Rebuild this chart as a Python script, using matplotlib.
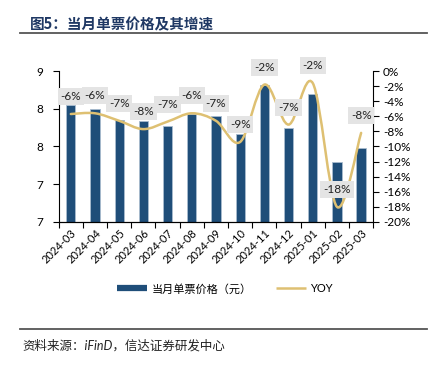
import matplotlib
matplotlib.use("Agg")
import matplotlib.pyplot as plt
from matplotlib.path import Path
from matplotlib.patches import PathPatch
from matplotlib.lines import Line2D
import numpy as np

plt.rcParams['font.family'] = ['Lato', 'Noto Sans CJK SC', 'DejaVu Sans']

# -------- DATA --------
months = ['2024-03', '2024-04', '2024-05', '2024-06', '2024-07', '2024-08', '2024-09',
          '2024-10', '2024-11', '2024-12', '2025-01', '2025-02', '2025-03']
price = [8.05, 7.99, 7.85, 7.84, 7.77, 7.93, 7.91, 7.67, 8.31, 7.75, 8.20, 7.29, 7.48]
yoy = [-5.7, -5.6, -6.6, -7.7, -6.7, -5.6, -6.6, -9.4, -1.8, -7.1, -1.6, -18.0, -8.2]
left_ticks = [6.5, 7.0, 7.5, 8.0, 8.5]
left_tick_labels = ['7', '7', '8', '8', '9']
right_ticks = [0, -2, -4, -6, -8, -10, -12, -14, -16, -18, -20]
# -------- DATA. --------

BAR_COLOR = '#1F4E79'
LINE_COLOR = '#DEC072'

fig = plt.figure(figsize=(4.35, 3.68), dpi=100)
ax = fig.add_axes([0.135, 0.397, 0.723, 0.410])
ax2 = ax.twinx()

x = np.arange(len(months))
ax.bar(x, price, width=0.385, color=BAR_COLOR, edgecolor='#a9bccf', linewidth=0.6, zorder=2)
ax.set_xlim(-0.5, len(months) - 0.5)
ax.set_ylim(6.5, 8.5)
ax.set_yticks(left_ticks)
ax.set_yticklabels(left_tick_labels)

# category boundary ticks, labels at centers
ax.set_xticks(np.arange(-0.5, len(months), 1.0))
ax.set_xticklabels([])
ax.set_xticks(x, minor=True)
ax.set_xticklabels(months, minor=True, rotation=45, ha='right', va='top',
                   rotation_mode='anchor', fontsize=8)
ax.tick_params(axis='x', which='minor', length=0, pad=4)
ax.tick_params(axis='x', which='major', length=4, width=0.8, direction='out')
ax.tick_params(axis='y', length=4, width=0.8, labelsize=8.5, pad=7)

# ---- Smoothed YOY line (bezier through the points)
verts = [(x[0], yoy[0])]
codes = [Path.MOVETO]
n = len(yoy)
for i in range(n - 1):
    p0 = np.array([x[max(i - 1, 0)], yoy[max(i - 1, 0)]])
    p1 = np.array([x[i], yoy[i]])
    p2 = np.array([x[i + 1], yoy[i + 1]])
    p3 = np.array([x[min(i + 2, n - 1)], yoy[min(i + 2, n - 1)]])
    c1 = p1 + (p2 - p0) / 6.0
    c2 = p2 - (p3 - p1) / 6.0
    verts += [tuple(c1), tuple(c2), tuple(p2)]
    codes += [Path.CURVE4] * 3
ax2.add_patch(PathPatch(Path(verts, codes), facecolor='none', edgecolor=LINE_COLOR,
                        linewidth=1.8, zorder=3, capstyle='round'))
ax2.set_ylim(-20, 0)
ax2.set_yticks(right_ticks)
ax2.set_yticklabels(['%d%%' % t for t in right_ticks])
ax2.tick_params(axis='y', length=4, width=0.8, labelsize=8.5, pad=3)

for xi, v in zip(x, yoy):
    ax2.annotate('%d%%' % round(v), (xi, v), xytext=(0, 12.5), textcoords='offset points',
                 ha='center', va='center', fontsize=8.5, color='#222222', zorder=4,
                 bbox=dict(boxstyle='square,pad=0.25', facecolor='#e4e4e4', edgecolor='none'))

for a in (ax, ax2):
    a.spines['top'].set_visible(False)
    a.spines['left'].set_linewidth(0.8)
    a.spines['right'].set_linewidth(0.8)
    a.spines['bottom'].set_linewidth(0.8)
ax2.spines['left'].set_visible(False)
ax.spines['right'].set_visible(False)

# ---- Legend
bar_handle = Line2D([], [], color=BAR_COLOR, linewidth=4.5, solid_capstyle='butt')
line_handle = Line2D([], [], color=LINE_COLOR, linewidth=1.8, solid_capstyle='butt')
fig.legend(handles=[bar_handle, line_handle], labels=['当月单票价格（元）', 'YOY'],
           loc='center', bbox_to_anchor=(0.517, 0.215), ncol=2, frameon=False,
           fontsize=8, handlelength=2.7, columnspacing=2.2, handletextpad=0.4)

# ---- Title, rules and source
fig.text(30 / 435, 1 - 24 / 368, '图5：当月单票价格及其增速', fontsize=10.5, fontweight='bold',
         color='#1F3864', va='center', ha='left', family=['Noto Sans CJK SC'])
fig.add_artist(Line2D([20 / 435, 427 / 435], [1 - 33 / 368, 1 - 33 / 368],
                      color='#555555', linewidth=1.3))
fig.add_artist(Line2D([20 / 435, 427 / 435], [1 - 329 / 368, 1 - 329 / 368],
                      color='#555555', linewidth=1.3))
fig.text(22 / 435, 1 - 345 / 368, '资料来源：iFinD，信达证券研发中心', fontsize=9, style='italic',
         color='#222222', va='center', ha='left')

plt.savefig('out.png', dpi=100)
